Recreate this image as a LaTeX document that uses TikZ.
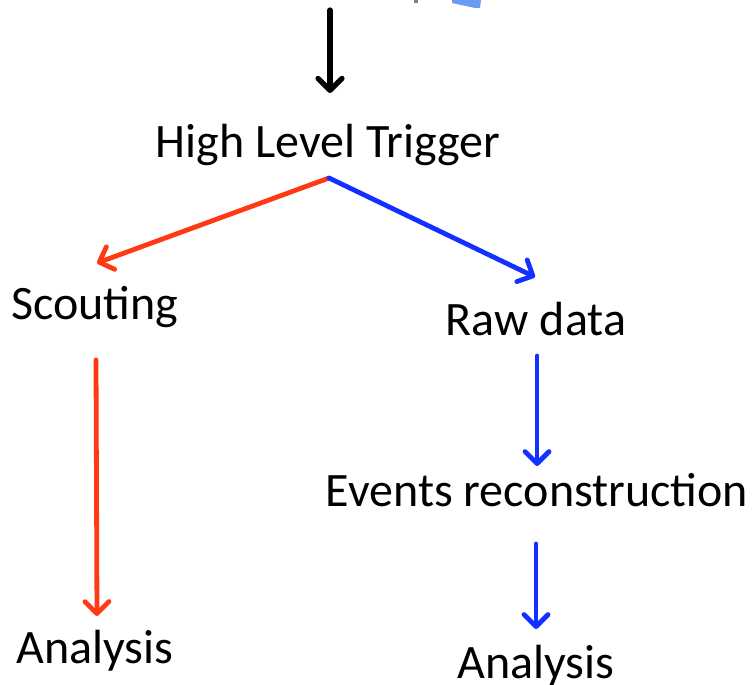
\documentclass[tikz,border=0pt]{standalone}
\usepackage{fontspec}
\setmainfont{Carlito}
\usetikzlibrary{arrows.meta}
\definecolor{flowred}{RGB}{255,58,18}
\definecolor{flowblue}{RGB}{18,48,255}
\definecolor{lightblue}{RGB}{106,155,240}
\tikzset{
  label/.style={inner sep=0pt, anchor=base, font=\fontsize{48}{57}\selectfont},
  conn/.style={line width=4.8pt, line cap=round,
    -{Straight Barb[length=12pt,width=24pt,round]}},
}
\begin{document}
\begin{tikzpicture}[x=1pt,y=-1pt]
\useasboundingbox (0,0) rectangle (752,685);
% cut-off fragments at the top edge
\fill[lightblue] (452,0) -- (481,0) -- (480,8) -- (475,8) -- (452,3) -- cycle;
\fill[gray] (414,0) rectangle (418,3);
% text nodes
\node[label] (hlt) at (328,157) {High Level Trigger};
\node[label] (scout) at (95,319) {Scouting};
\node[label] (raw) at (536,335) {Raw data};
\node[label] (reco) at (537,506) {Events reconstruction};
\node[label] (anaL) at (95,663) {Analysis};
\node[label] (anaR) at (536,678) {Analysis};
% connector end points
\coordinate (in) at (330,10);
\coordinate (hltin) at (330,93);
\coordinate (split) at (329,178);
\coordinate (scoutin) at (97,263);
\coordinate (rawin) at (535,277);
\coordinate (scoutout) at (96,360);
\coordinate (anaLin) at (97,616);
\coordinate (rawout) at (537,356);
\coordinate (recoin) at (537,466);
\coordinate (recoout) at (536,544);
\coordinate (anaRin) at (536,629);
% connectors
\draw[conn, line width=5.2pt, black] (in) -- (hltin);
\draw[conn, flowred] (split) -- (scoutin);
\draw[conn, flowblue] (split) -- (rawin);
\draw[conn, flowred] (scoutout) -- (anaLin);
\draw[conn, flowblue] (rawout) -- (recoin);
\draw[conn, flowblue] (recoout) -- (anaRin);
\end{tikzpicture}
\end{document}
